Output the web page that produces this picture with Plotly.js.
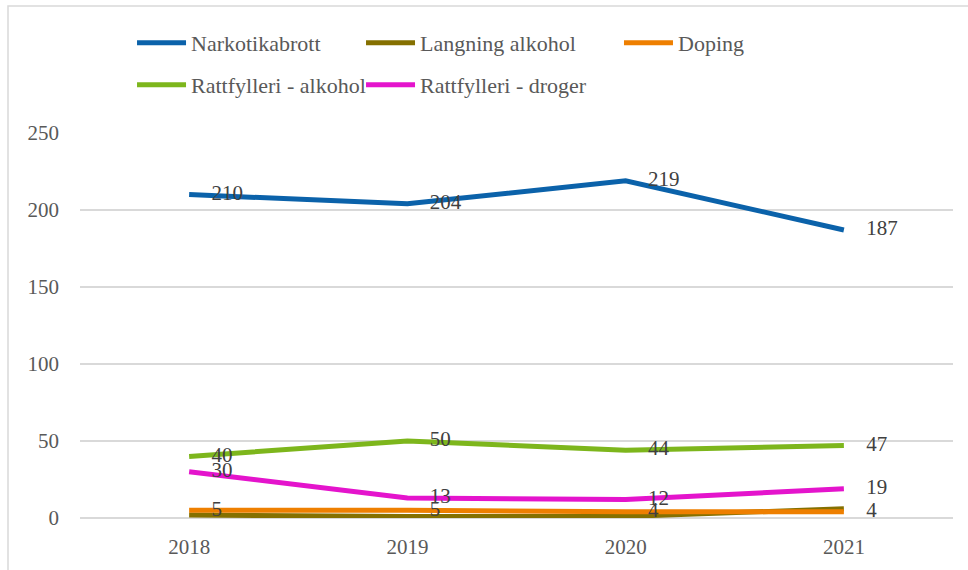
<!DOCTYPE html>
<html>
<head>
<meta charset="utf-8">
<script src="https://cdn.plot.ly/plotly-3.0.1.min.js"></script>
<style>html,body{margin:0;padding:0;background:#fff;}#chart{width:968px;height:570px;}</style>
</head>
<body>
<div id="chart"></div>
<script>
const years = ['2018', '2019', '2020', '2021'];
const narkotikabrott = [210, 204, 219, 187];
const langningAlkohol = [2, 1, 1, 6];
const doping = [5, 5, 4, 4];
const rattfylleriAlkohol = [40, 50, 44, 47];
const rattfylleriDroger = [30, 13, 12, 19];

const seriesNames = ['Narkotikabrott', 'Langning alkohol', 'Doping', 'Rattfylleri - alkohol', 'Rattfylleri - droger'];
const seriesColors = ['#0B62AA', '#857000', '#EE7F00', '#7DB61C', '#E414CC'];
const seriesData = [narkotikabrott, langningAlkohol, doping, rattfylleriAlkohol, rattfylleriDroger];
const showLabels = [true, false, true, true, true];
const legendIds = ['legend', 'legend2', 'legend3', 'legend4', 'legend5'];

const serif = 'Liberation Serif';

const traces = seriesData.map((vals, i) => ({
  type: 'scatter',
  x: years,
  y: vals,
  name: seriesNames[i],
  legend: legendIds[i],
  mode: showLabels[i] ? 'lines+markers+text' : 'lines',
  line: {color: seriesColors[i], width: 5},
  marker: {size: 34, color: 'rgba(0,0,0,0)'},
  text: showLabels[i] ? vals.map(String) : undefined,
  textposition: 'middle right',
  textfont: {family: serif, size: 21, color: '#404040'},
  cliponaxis: false,
  hoverinfo: 'x+y+name'
}));

const legendFont = {family: serif, size: 22, color: '#595959'};
function leg(x, y) {
  return {x: x, y: y, xanchor: 'left', yanchor: 'middle', font: legendFont,
          bgcolor: 'rgba(0,0,0,0)', itemwidth: 49, orientation: 'h'};
}

const layout = {
  width: 968,
  height: 570,
  margin: {l: 80, r: 15, t: 133, b: 52},
  paper_bgcolor: '#ffffff',
  plot_bgcolor: '#ffffff',
  font: {family: serif, color: '#595959', size: 21},
  showlegend: true,
  legend: leg(0.0596, 1.234),
  legend2: leg(0.3219, 1.234),
  legend3: leg(0.6174, 1.234),
  legend4: leg(0.0596, 1.125),
  legend5: leg(0.3219, 1.125),
  xaxis: {
    type: 'category',
    range: [-0.5, 3.5],
    showgrid: false,
    showline: false,
    zeroline: false,
    ticks: '',
    ticklabelstandoff: 14,
    tickfont: {family: serif, size: 21, color: '#595959'},
    fixedrange: true
  },
  yaxis: {
    range: [0, 250],
    tickvals: [0, 50, 100, 150, 200, 250],
    showgrid: true,
    gridcolor: '#D9D9D9',
    gridwidth: 1.5,
    zeroline: true,
    zerolinecolor: '#D9D9D9',
    zerolinewidth: 1.5,
    showline: false,
    ticks: '',
    ticklabelstandoff: 20,
    tickfont: {family: serif, size: 21, color: '#595959'},
    fixedrange: true
  },
  shapes: [{
    type: 'rect', xref: 'paper', yref: 'paper',
    x0: -72 / 873, x1: 1.05, y0: -0.2, y1: (518 - 6) / 385,
    line: {color: '#D9D9D9', width: 1.5}, fillcolor: 'rgba(0,0,0,0)', layer: 'below'
  }]
};

Plotly.newPlot('chart', traces, layout, {displayModeBar: false, staticPlot: true});
</script>
</body>
</html>
